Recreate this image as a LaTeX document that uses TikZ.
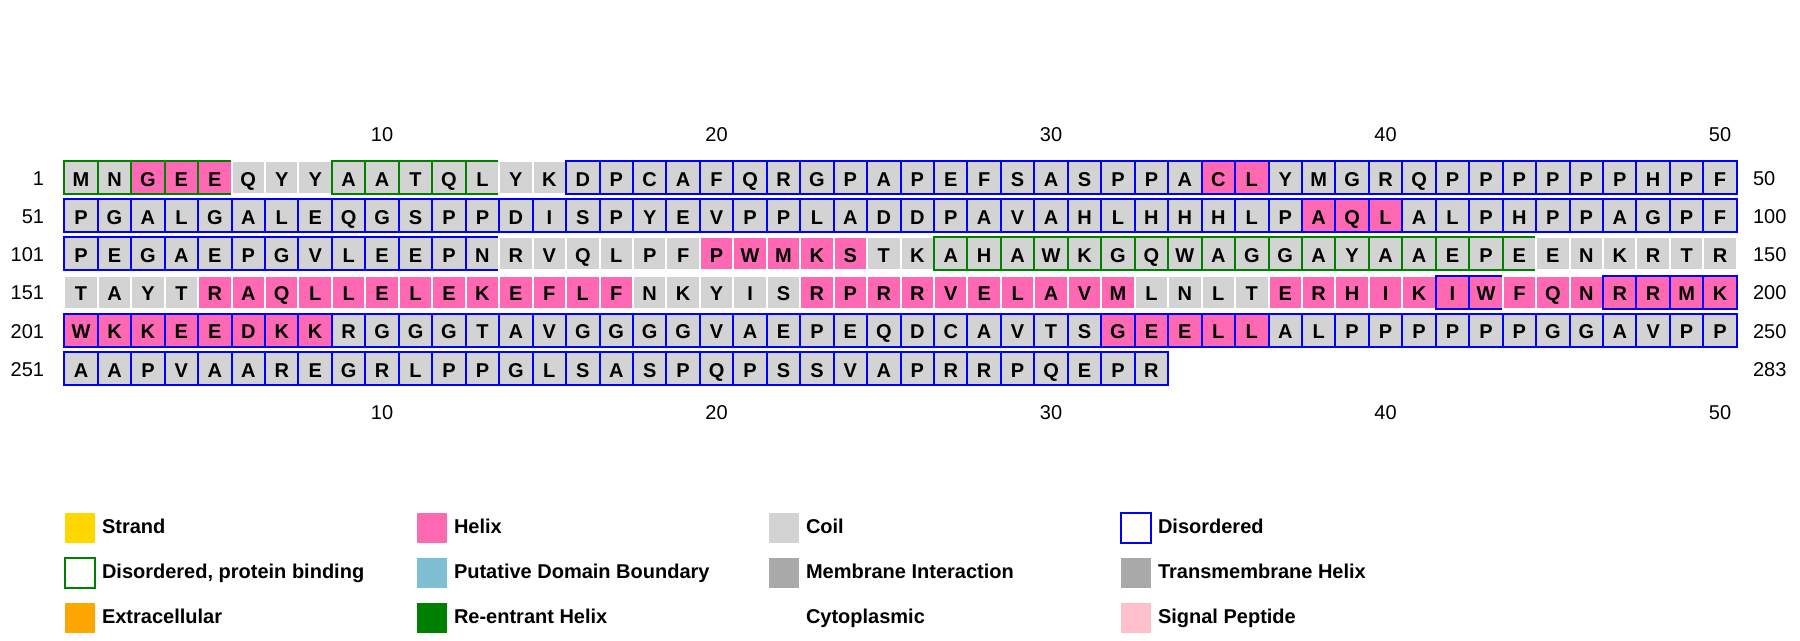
\documentclass[tikz,border=0pt]{standalone}
\usepackage{fontspec}
\setmainfont{Liberation Sans}
\definecolor{Co}{HTML}{D3D3D3}
\definecolor{He}{HTML}{FF69B4}
\definecolor{Bu}{HTML}{0000FF}
\definecolor{Gn}{HTML}{008000}
\definecolor{Wh}{HTML}{FFFFFF}
\definecolor{StrandC}{HTML}{FFD700}
\definecolor{ExtraC}{HTML}{FFA500}
\definecolor{PdbC}{HTML}{7FBFD4}
\definecolor{MemC}{HTML}{A9A9A9}
\definecolor{SigC}{HTML}{FFC0CB}
\newcommand{\resfont}{\fontsize{15}{18}\selectfont\bfseries}
\newcommand{\numfont}{\fontsize{15}{18}\selectfont}
\begin{document}
\begin{tikzpicture}[x=0.75pt,y=-0.75pt,
  cell/.style={rectangle, minimum width=25.09pt, minimum height=24.75pt, inner sep=0pt, outer sep=0pt,
    line width=1.5pt, text height=12.8pt, text depth=0pt, font=\resfont},
  num/.style={inner sep=0pt, outer sep=0pt, font=\numfont},
  lgbox/.style={rectangle, minimum width=22.5pt, minimum height=22.5pt, inner sep=0pt, outer sep=0pt, line width=1.5pt},
  lgtext/.style={inner sep=0pt, outer sep=0pt, anchor=base west, font=\resfont}]
\useasboundingbox (0,0) rectangle (1800,640);
% row 1
\foreach \a/\f/\b [count=\i] in {M/Co/Gn,N/Co/Gn,G/He/Gn,E/He/Gn,E/He/Gn,Q/Co/Wh,Y/Co/Wh,Y/Co/Wh,A/Co/Gn,A/Co/Gn,T/Co/Gn,Q/Co/Gn,L/Co/Gn,Y/Co/Wh,K/Co/Wh,
 D/Co/Bu,P/Co/Bu,C/Co/Bu,A/Co/Bu,F/Co/Bu,Q/Co/Bu,R/Co/Bu,G/Co/Bu,P/Co/Bu,A/Co/Bu,P/Co/Bu,E/Co/Bu,F/Co/Bu,S/Co/Bu,A/Co/Bu,S/Co/Bu,P/Co/Bu,P/Co/Bu,A/Co/Bu,C/He/Bu,L/He/Bu,Y/Co/Bu,M/Co/Bu,G/Co/Bu,R/Co/Bu,Q/Co/Bu,P/Co/Bu,P/Co/Bu,P/Co/Bu,P/Co/Bu,P/Co/Bu,P/Co/Bu,H/Co/Bu,P/Co/Bu,F/Co/Bu}
  \node[cell, fill=\f, draw=\b] (ra\i) at ({64.3+33.45*(\i-0.5)},177.5) {\a};
% row 2
\foreach \a/\f/\b [count=\i] in {P/Co/Bu,G/Co/Bu,A/Co/Bu,L/Co/Bu,G/Co/Bu,A/Co/Bu,L/Co/Bu,E/Co/Bu,Q/Co/Bu,G/Co/Bu,S/Co/Bu,P/Co/Bu,P/Co/Bu,D/Co/Bu,I/Co/Bu,S/Co/Bu,P/Co/Bu,Y/Co/Bu,E/Co/Bu,V/Co/Bu,P/Co/Bu,P/Co/Bu,L/Co/Bu,A/Co/Bu,D/Co/Bu,D/Co/Bu,P/Co/Bu,A/Co/Bu,V/Co/Bu,A/Co/Bu,H/Co/Bu,L/Co/Bu,H/Co/Bu,H/Co/Bu,H/Co/Bu,L/Co/Bu,P/Co/Bu,
 A/He/Bu,Q/He/Bu,L/He/Bu,A/Co/Bu,L/Co/Bu,P/Co/Bu,H/Co/Bu,P/Co/Bu,P/Co/Bu,A/Co/Bu,G/Co/Bu,P/Co/Bu,F/Co/Bu}
  \node[cell, fill=\f, draw=\b] (rb\i) at ({64.3+33.45*(\i-0.5)},215.7) {\a};
% row 3
\foreach \a/\f/\b [count=\i] in {P/Co/Bu,E/Co/Bu,G/Co/Bu,A/Co/Bu,E/Co/Bu,P/Co/Bu,G/Co/Bu,V/Co/Bu,L/Co/Bu,E/Co/Bu,E/Co/Bu,P/Co/Bu,N/Co/Bu,
 R/Co/Wh,V/Co/Wh,Q/Co/Wh,L/Co/Wh,P/Co/Wh,F/Co/Wh,P/He/Wh,W/He/Wh,M/He/Wh,K/He/Wh,S/He/Wh,T/Co/Wh,K/Co/Wh,
 A/Co/Gn,H/Co/Gn,A/Co/Gn,W/Co/Gn,K/Co/Gn,G/Co/Gn,Q/Co/Gn,W/Co/Gn,A/Co/Gn,G/Co/Gn,G/Co/Gn,A/Co/Gn,Y/Co/Gn,A/Co/Gn,A/Co/Gn,E/Co/Gn,P/Co/Gn,E/Co/Gn,
 E/Co/Wh,N/Co/Wh,K/Co/Wh,R/Co/Wh,T/Co/Wh,R/Co/Wh}
  \node[cell, fill=\f, draw=\b] (rc\i) at ({64.3+33.45*(\i-0.5)},253.9) {\a};
% row 4
\foreach \a/\f/\b [count=\i] in {T/Co/Wh,A/Co/Wh,Y/Co/Wh,T/Co/Wh,
 R/He/Wh,A/He/Wh,Q/He/Wh,L/He/Wh,L/He/Wh,E/He/Wh,L/He/Wh,E/He/Wh,K/He/Wh,E/He/Wh,F/He/Wh,L/He/Wh,F/He/Wh,
 N/Co/Wh,K/Co/Wh,Y/Co/Wh,I/Co/Wh,S/Co/Wh,
 R/He/Wh,P/He/Wh,R/He/Wh,R/He/Wh,V/He/Wh,E/He/Wh,L/He/Wh,A/He/Wh,V/He/Wh,M/He/Wh,
 L/Co/Wh,N/Co/Wh,L/Co/Wh,T/Co/Wh,
 E/He/Wh,R/He/Wh,H/He/Wh,I/He/Wh,K/He/Wh,I/He/Bu,W/He/Bu,F/He/Wh,Q/He/Wh,N/He/Wh,R/He/Bu,R/He/Bu,M/He/Bu,K/He/Bu}
  \node[cell, fill=\f, draw=\b] (rd\i) at ({64.3+33.45*(\i-0.5)},292.1) {\a};
% row 5
\foreach \a/\f/\b [count=\i] in {W/He/Bu,K/He/Bu,K/He/Bu,E/He/Bu,E/He/Bu,D/He/Bu,K/He/Bu,K/He/Bu,
 R/Co/Bu,G/Co/Bu,G/Co/Bu,G/Co/Bu,T/Co/Bu,A/Co/Bu,V/Co/Bu,G/Co/Bu,G/Co/Bu,G/Co/Bu,G/Co/Bu,V/Co/Bu,A/Co/Bu,E/Co/Bu,P/Co/Bu,E/Co/Bu,Q/Co/Bu,D/Co/Bu,C/Co/Bu,A/Co/Bu,V/Co/Bu,T/Co/Bu,S/Co/Bu,
 G/He/Bu,E/He/Bu,E/He/Bu,L/He/Bu,L/He/Bu,
 A/Co/Bu,L/Co/Bu,P/Co/Bu,P/Co/Bu,P/Co/Bu,P/Co/Bu,P/Co/Bu,P/Co/Bu,G/Co/Bu,G/Co/Bu,A/Co/Bu,V/Co/Bu,P/Co/Bu,P/Co/Bu}
  \node[cell, fill=\f, draw=\b] (re\i) at ({64.3+33.45*(\i-0.5)},330.3) {\a};
% row 6
\foreach \a [count=\i] in {A,A,P,V,A,A,R,E,G,R,L,P,P,G,L,S,A,S,P,Q,P,S,S,V,A,P,R,R,P,Q,E,P,R}
  \node[cell, fill=Co, draw=Bu] (rf\i) at ({64.3+33.45*(\i-0.5)},368.5) {\a};
% position labels
\foreach \n in {10,20,30,40,50} {
  \node[num, anchor=base] (top\n) at ({64.3+33.45*(\n-0.5)},141.7) {\n};
  \node[num, anchor=base] (bot\n) at ({64.3+33.45*(\n-0.5)},419.3) {\n};
}
\foreach \l [count=\r from 0] in {1,51,101,151,201,251}
  \node[num, anchor=base east] (left\l) at (44,{185.3+38.2*\r}) {\l};
\foreach \l [count=\r from 0] in {50,100,150,200,250,283}
  \node[num, anchor=base west] (right\l) at (1753,{185.3+38.2*\r}) {\l};
% legend
\node[lgbox, fill=StrandC] (lgA) at (80,528) {};
\node[lgtext] (ltA) at (102,533.5) {Strand};
\node[lgbox, fill=white, draw=Gn] (lgB) at (80,572.7) {};
\node[lgtext] (ltB) at (102,578.2) {Disordered, protein binding};
\node[lgbox, fill=ExtraC] (lgC) at (80,617.5) {};
\node[lgtext] (ltC) at (102,623) {Extracellular};
\node[lgbox, fill=He] (lgD) at (432,528) {};
\node[lgtext] (ltD) at (454,533.5) {Helix};
\node[lgbox, fill=PdbC] (lgE) at (432,572.7) {};
\node[lgtext] (ltE) at (454,578.2) {Putative Domain Boundary};
\node[lgbox, fill=Gn] (lgF) at (432,617.5) {};
\node[lgtext] (ltF) at (454,623) {Re-entrant Helix};
\node[lgbox, fill=Co] (lgG) at (784,528) {};
\node[lgtext] (ltG) at (806,533.5) {Coil};
\node[lgbox, fill=MemC] (lgH) at (784,572.7) {};
\node[lgtext] (ltH) at (806,578.2) {Membrane Interaction};
\node[lgbox, fill=white] (lgI) at (784,617.5) {};
\node[lgtext] (ltI) at (806,623) {Cytoplasmic};
\node[lgbox, fill=white, draw=Bu] (lgJ) at (1136,528) {};
\node[lgtext] (ltJ) at (1158,533.5) {Disordered};
\node[lgbox, fill=MemC] (lgK) at (1136,572.7) {};
\node[lgtext] (ltK) at (1158,578.2) {Transmembrane Helix};
\node[lgbox, fill=SigC] (lgL) at (1136,617.5) {};
\node[lgtext] (ltL) at (1158,623) {Signal Peptide};
\end{tikzpicture}
\end{document}
